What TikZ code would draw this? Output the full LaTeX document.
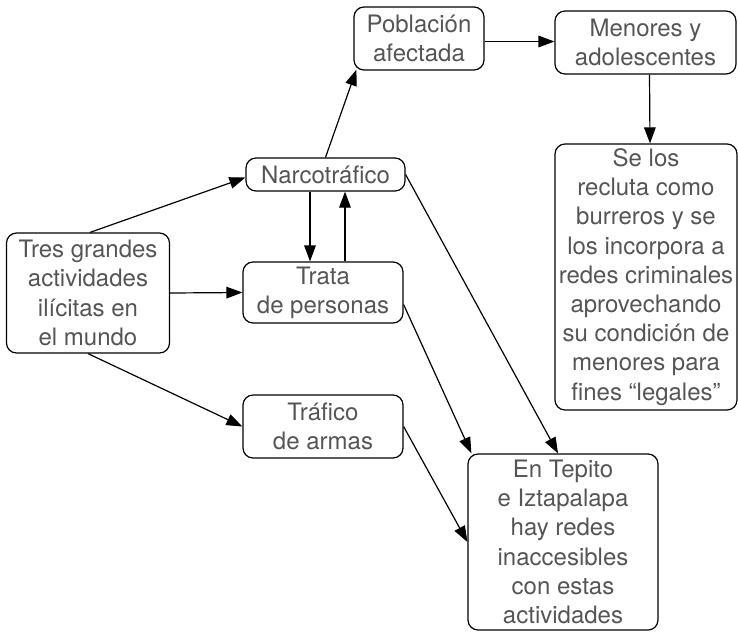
\documentclass[tikz,border=0pt]{standalone}
\usepackage{fontspec}
\setmainfont{TeX Gyre Heros}
\usepackage{xcolor}
\usetikzlibrary{positioning,arrows.meta}
\definecolor{txtgray}{HTML}{555555}

\begin{document}
\begin{tikzpicture}[x=0.5pt,y=-0.5pt,
    box/.style={draw,rounded corners=5pt,line width=0.6pt,align=center,inner sep=0pt,
        text=txtgray,font=\fontsize{12}{14.6}\selectfont},
    arr/.style={-{Triangle[length=8pt,width=5.8pt]},line width=0.6pt}]
                \useasboundingbox (0,0) rectangle (738,633);

                % Boxes
                \node[box,minimum width=81.5pt,minimum height=60pt] (tres) at (88,293)
                    {Tres grandes\\actividades\\ilícitas en\\el mundo};
                \node[box,minimum width=79.5pt,minimum height=16.5pt] (narco) at (325.5,174.5) {Narcotráfico};
                \node[box,minimum width=80pt,minimum height=30.5pt] (trata) at (323,292.5) {Trata\\de personas};
                \node[box,minimum width=80pt,minimum height=31.5pt] (trafico) at (323,426.5) {Tráfico\\de armas};
                \node[box,minimum width=65pt,minimum height=31.5pt] (poblacion) at (419,38.5) {Población\\afectada};
                \node[box,minimum width=90.5pt,minimum height=31.5pt] (menores) at (645.5,42.5) {Menores y\\adolescentes};
                \node[box,minimum width=91pt,minimum height=133pt] (selos) at (646,277)
                    {Se los\\recluta como\\burreros y se\\los incorpora a\\redes criminales\\aprovechando\\su condición de\\menores para\\fines “legales”};
                \node[box,minimum width=95pt,minimum height=88pt] (tepito) at (563,542)
                    {En Tepito\\e Iztapalapa\\hay redes\\inaccesibles\\con estas\\actividades};

                % Arrows from the main box
                \draw[arr] ([xshift=1pt]tres.north) -- ([yshift=-1.5pt]narco.west);
                \draw[arr] (tres.east) -- (trata.west);
                \draw[arr] (tres.south) -- (trafico.west);

                % Narcotráfico and Trata
                \draw[arr] ([xshift=-7.75pt]narco.south) -- ([xshift=-6.5pt]trata.north);
                \draw[arr] ([xshift=11pt]trata.north) -- ([xshift=9.75pt]narco.south);

                % Upper chain
                \draw[arr] (narco.north) -- ([xshift=1.5pt,yshift=0.5pt]poblacion.south west);
                \draw[arr] ([yshift=-1.5pt]poblacion.east) -- ([yshift=0.5pt]menores.west);
                \draw[arr] ([xshift=2pt]menores.south) -- ([xshift=2pt]selos.north);

                % Into Tepito
                \draw[arr] (narco.east) -- ([xshift=-2.5pt]tepito.north);
                \draw[arr] ([yshift=-6pt]trata.east) -- ([xshift=2pt]tepito.north west);
                \draw[arr] (trafico.east) -- (tepito.west);
            \end{tikzpicture}
\end{document}
